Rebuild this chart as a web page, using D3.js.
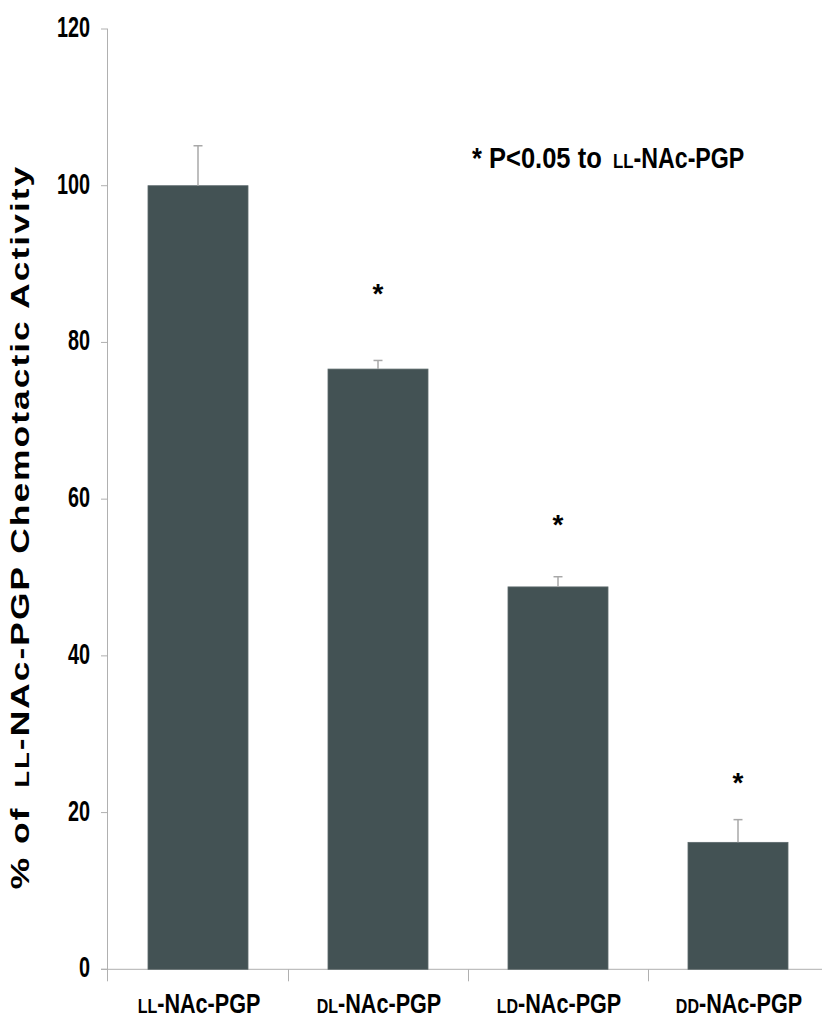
<!DOCTYPE html>
<html><head><meta charset="utf-8">
<script src="https://cdn.jsdelivr.net/npm/d3@7"></script>
<style>body{margin:0;background:#fff}svg{display:block}</style>
</head><body>
<svg id="c" width="822" height="1021"></svg>
<script>
const categories = [["LL","-NAc-PGP"],["DL","-NAc-PGP"],["LD","-NAc-PGP"],["DD","-NAc-PGP"]];
const values = [100, 76.6, 48.8, 16.2];
const errors = [5.1, 1.1, 1.3, 2.9];
const significant = [false, true, true, true];
const starValues = [null, 87.0, 57.5, 24.6];
const yTicks = [0, 20, 40, 60, 80, 100, 120];

(function () {
const svg = d3.select("#c");
const mLeft = 108, mRight = 828, mTop = 29, mBottom = 969.3;
const narrow = "'Liberation Sans Narrow','Arial Narrow',sans-serif";
const wide = "'Liberation Sans',Arial,sans-serif";

const x = d3.scaleBand().domain(d3.range(categories.length)).range([mLeft, mRight])
  .paddingInner(0.4444).paddingOuter(0.2222);
const y = d3.scaleLinear().domain([0, 120]).range([mBottom, mTop]);
const axisColor = "#b0b0b0";

svg.append("line").attr("x1", mLeft - 0.5).attr("x2", mLeft - 0.5).attr("y1", y(120)).attr("y2", mBottom + 12)
  .attr("stroke", axisColor);
svg.append("line").attr("x1", mLeft - 7).attr("x2", 822).attr("y1", mBottom).attr("y2", mBottom)
  .attr("stroke", axisColor);

const yt = svg.append("g");
yTicks.forEach(t => {
  yt.append("line").attr("x1", mLeft - 7).attr("x2", mLeft).attr("y1", y(t)).attr("y2", y(t)).attr("stroke", axisColor);
  const g = yt.append("g").attr("transform", `translate(${mLeft - 18},${y(t) + 8}) scale(0.66,1)`);
  g.append("text").attr("text-anchor", "end").attr("font-family", narrow).attr("font-weight", "bold")
    .attr("font-size", 30).attr("fill", "#000").text(t);
});

const step = x.step();
for (let i = 1; i <= categories.length; i++) {
  const bx = mLeft + step * i + 0.5;
  svg.append("line").attr("x1", bx).attr("x2", bx).attr("y1", mBottom).attr("y2", mBottom + 12).attr("stroke", axisColor);
}

svg.append("g").selectAll("rect").data(values).join("rect")
  .attr("x", (d, i) => x(i)).attr("width", x.bandwidth())
  .attr("y", d => y(d)).attr("height", d => mBottom - y(d))
  .attr("fill", "#435254").attr("stroke", "#5d6a6c").attr("stroke-width", 0.8);

const eg = svg.append("g").attr("stroke", "#a8a8a8").attr("stroke-width", 1.5);
values.forEach((v, i) => {
  const cx = x(i) + x.bandwidth() / 2;
  eg.append("line").attr("x1", cx).attr("x2", cx).attr("y1", y(v)).attr("y2", y(v + errors[i]));
  eg.append("line").attr("x1", cx - 4.5).attr("x2", cx + 4.5).attr("y1", y(v + errors[i])).attr("y2", y(v + errors[i]));
});

values.forEach((v, i) => {
  if (!significant[i]) return;
  svg.append("text").attr("x", x(i) + x.bandwidth() / 2).attr("y", y(starValues[i]) + 15)
    .attr("text-anchor", "middle").attr("font-family", wide).attr("font-weight", "bold")
    .attr("font-size", 28).text("*");
});

categories.forEach((c, i) => {
  const g = svg.append("g").attr("transform", `translate(${x(i) + x.bandwidth() / 2 + 1},1013) scale(0.8,1)`);
  const t = g.append("text").attr("text-anchor", "middle").attr("font-family", narrow)
    .attr("font-weight", "bold").attr("font-size", 27);
  t.append("tspan").attr("font-size", 20).text(c[0]);
  t.append("tspan").text(c[1]);
});

const ag1 = svg.append("g").attr("transform", "translate(472,168) scale(0.88,1)");
ag1.append("text").attr("font-family", narrow).attr("font-weight", "bold").attr("font-size", 29)
  .text("* P<0.05 to");
const ag2 = svg.append("g").attr("transform", "translate(613,168) scale(0.8,1)");
const at = ag2.append("text").attr("font-family", narrow).attr("font-weight", "bold").attr("font-size", 29);
at.append("tspan").attr("font-size", 21).text("LL");
at.append("tspan").text("-NAc-PGP");

const yg = svg.append("g").attr("transform", "translate(29,527) rotate(-90) scale(1.36,1)");
const ytt = yg.append("text").attr("text-anchor", "middle").attr("font-family", wide).attr("font-weight", "bold")
  .attr("font-size", 26).attr("letter-spacing", 1.5);
ytt.append("tspan").text("% of");
ytt.append("tspan").attr("font-size", 20).attr("dx", 14).text("LL");
ytt.append("tspan").text("-NAc-PGP Chemotactic Activity");
})();
</script>
</body></html>
